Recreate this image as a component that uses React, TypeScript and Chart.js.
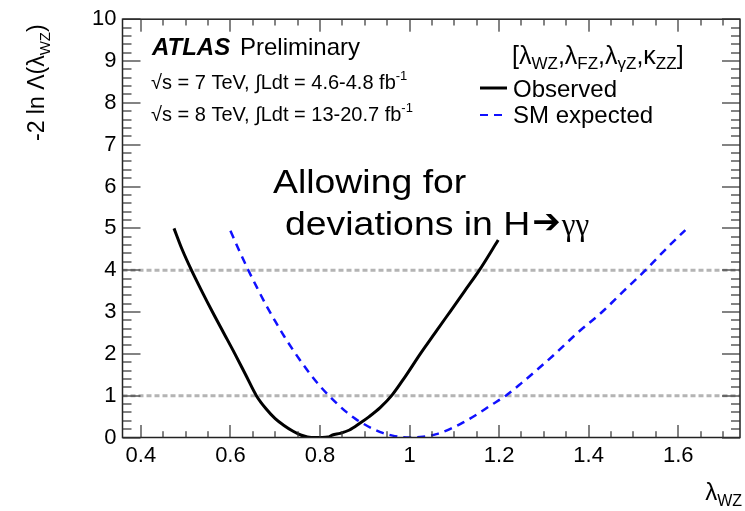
import React, { useEffect, useRef } from "react";
import { Chart, registerables } from "chart.js";

Chart.register(...registerables);

// ---- data ----
const observedX = [0.474, 0.492, 0.513, 0.536, 0.56, 0.585, 0.61, 0.634, 0.658, 0.68, 0.7, 0.718, 0.74, 0.757, 0.772, 0.79, 0.805, 0.818, 0.828, 0.845, 0.866, 0.889, 0.91, 0.935, 0.96, 0.99, 1.024, 1.057, 1.09, 1.123, 1.156, 1.198];
const observedY = [5.0, 4.5, 4.0, 3.5, 3.0, 2.5, 2.0, 1.5, 1.0, 0.68, 0.45, 0.3, 0.15, 0.06, 0.015, 0.0, 0.0, 0.01, 0.06, 0.1, 0.18, 0.34, 0.5, 0.72, 1.0, 1.45, 2.0, 2.5, 3.0, 3.5, 4.0, 4.72];

const expectedX = [0.6, 0.62, 0.64, 0.66, 0.68, 0.7, 0.72, 0.74, 0.76, 0.78, 0.8, 0.82, 0.84, 0.86, 0.88, 0.9, 0.92, 0.94, 0.96, 0.98, 1.0, 1.03, 1.06, 1.09, 1.12, 1.15, 1.18, 1.215, 1.25, 1.285, 1.325, 1.375, 1.43, 1.478, 1.527, 1.572, 1.616];
const expectedY = [4.94, 4.46, 4.0, 3.57, 3.16, 2.78, 2.42, 2.09, 1.78, 1.49, 1.23, 1.0, 0.79, 0.6, 0.44, 0.31, 0.2, 0.11, 0.05, 0.01, 0.0, 0.02, 0.08, 0.2, 0.36, 0.55, 0.76, 1.0, 1.3, 1.62, 2.0, 2.5, 3.0, 3.5, 4.0, 4.5, 4.96];

const refLevels = [1, 4];
const xTickValues = [0.4, 0.6, 0.8, 1.0, 1.2, 1.4, 1.6];
const yTickValues = [0, 1, 2, 3, 4, 5, 6, 7, 8, 9, 10];

const X_MIN = 0.359;
const X_MAX = 1.738;
const Y_MIN = 0;
const Y_MAX = 10;

const SANS = "'Liberation Sans', Arial, Helvetica, sans-serif";
const SERIF = "'Liberation Serif', 'Times New Roman', serif";

type Part = { t: string; font: string; dy?: number };

function drawParts(ctx: CanvasRenderingContext2D, x: number, y: number, parts: Part[]) {
  let cx = x;
  for (const p of parts) {
    ctx.font = p.font;
    ctx.fillText(p.t, cx, y + (p.dy || 0));
    cx += ctx.measureText(p.t).width;
  }
  return cx;
}

const decorPlugin = {
  id: "decor",
  afterDraw(chart: any) {
    const ctx: CanvasRenderingContext2D = chart.ctx;
    const { left, right, top, bottom } = chart.chartArea;
    const xs = chart.scales.x;
    const ys = chart.scales.y;
    ctx.save();
    ctx.setLineDash([]);

    // frame
    ctx.strokeStyle = "#222";
    ctx.lineWidth = 1.5;
    ctx.strokeRect(left, top, right - left, bottom - top);

    // ticks (drawn as thin rectangles)
    ctx.fillStyle = "#333";
    const yMajLen = 18, yMinLen = 9, xMajLen = 12.5, xMinLen = 6.3;
    for (let i = 0; i <= 50; i++) {
      const v = Y_MIN + i * 0.2;
      if (v > Y_MAX + 1e-9) break;
      const py = Math.round(ys.getPixelForValue(v));
      const len = i % 5 === 0 ? yMajLen : yMinLen;
      ctx.fillRect(left, py - 0.6, len, 1.2);
      ctx.fillRect(right - len, py - 0.6, len, 1.2);
    }
    for (let i = -2; i <= 40; i++) {
      const v = 0.4 + i * 0.05;
      if (v < X_MIN || v > X_MAX) continue;
      const px = Math.round(xs.getPixelForValue(v));
      const len = ((i % 4) + 4) % 4 === 0 ? xMajLen : xMinLen;
      ctx.fillRect(px - 0.6, bottom - len, 1.2, len);
      ctx.fillRect(px - 0.6, top, 1.2, len);
    }

    ctx.fillStyle = "#000";
    ctx.textBaseline = "alphabetic";
    ctx.textAlign = "left";

    // ATLAS label
    ctx.font = `italic bold 24px ${SANS}`;
    ctx.fillText("ATLAS", 152, 55);
    ctx.font = `24px ${SANS}`;
    ctx.fillText("Preliminary", 240, 55);

    const f21 = `20px ${SANS}`;
    const sup = `13px ${SANS}`;
    drawParts(ctx, 151, 89, [
      { t: "\u221As = 7 TeV, \u222BLdt = 4.6-4.8 fb", font: f21 },
      { t: "-1", font: sup, dy: -9 },
    ]);
    drawParts(ctx, 151, 121, [
      { t: "\u221As = 8 TeV, \u222BLdt = 13-20.7 fb", font: f21 },
      { t: "-1", font: sup, dy: -9 },
    ]);

    // legend header
    const lf = `25px ${SANS}`;
    const sf = `17px ${SANS}`;
    drawParts(ctx, 512, 64, [
      { t: "[\u03BB", font: lf },
      { t: "WZ", font: sf, dy: 5 },
      { t: ",\u03BB", font: lf },
      { t: "FZ", font: sf, dy: 5 },
      { t: ",\u03BB", font: lf },
      { t: "\u03B3Z", font: sf, dy: 5 },
      { t: ",\u03BA", font: lf },
      { t: "ZZ", font: sf, dy: 5 },
      { t: "]", font: lf },
    ]);

    // legend entries
    ctx.lineWidth = 3;
    ctx.strokeStyle = "#000";
    ctx.beginPath();
    ctx.moveTo(480, 88);
    ctx.lineTo(507, 88);
    ctx.stroke();
    ctx.strokeStyle = "#1010ff";
    ctx.lineWidth = 2;
    ctx.setLineDash([8, 6]);
    ctx.beginPath();
    ctx.moveTo(480, 115);
    ctx.lineTo(508, 115);
    ctx.stroke();
    ctx.setLineDash([]);
    ctx.font = `24px ${SANS}`;
    ctx.fillText("Observed", 513, 97);
    ctx.fillText("SM expected", 513, 123);

    // annotation (slightly widened text)
    ctx.save();
    ctx.translate(273, 193);
    ctx.scale(1.1, 1);
    ctx.font = `34px ${SANS}`;
    ctx.fillText("Allowing for", 0, 0);
    ctx.restore();

    ctx.save();
    ctx.translate(285, 235);
    ctx.scale(1.1, 1);
    let cx = drawParts(ctx, 0, 0, [{ t: "deviations in H", font: `34px ${SANS}` }]);
    ctx.restore();
    const arrowX = 285 + cx * 1.1 + 2;
    const ax = drawParts(ctx, arrowX, 233, [{ t: "\u2794", font: `bold 34px 'DejaVu Sans', sans-serif` }]);
    drawParts(ctx, ax + 1, 235, [{ t: "\u03B3\u03B3", font: `31px ${SERIF}` }]);

    // y axis title (rotated)
    ctx.save();
    ctx.translate(44, 141);
    ctx.rotate(-Math.PI / 2);
    drawParts(ctx, 0, 0, [
      { t: "-2 ln \u039B(\u03BB", font: `23px ${SANS}` },
      { t: "WZ", font: `15px ${SANS}`, dy: 6 },
      { t: ")", font: `23px ${SANS}` },
    ]);
    ctx.restore();

    // x axis title
    ctx.font = `24px ${SANS}`;
    const w1 = ctx.measureText("\u03BB").width;
    ctx.font = `16px ${SANS}`;
    const w2 = ctx.measureText("WZ").width;
    drawParts(ctx, 742 - w1 - w2, 500, [
      { t: "\u03BB", font: `24px ${SANS}` },
      { t: "WZ", font: `16px ${SANS}`, dy: 6 },
    ]);

    ctx.restore();
  },
};

function fmt(v: number) {
  return String(Number(v.toFixed(1)));
}

export default function App() {
  const ref = useRef<HTMLCanvasElement>(null);

  useEffect(() => {
    const canvas = ref.current;
    if (!canvas) return;
    const refDatasets = refLevels.map((lvl) => ({
      label: `ref${lvl}`,
      data: [
        { x: X_MIN, y: lvl },
        { x: X_MAX, y: lvl },
      ],
      borderColor: "#b4b4b4",
      borderWidth: 3,
      borderDash: [5, 3],
      pointRadius: 0,
      order: 3,
    }));
    const chart = new Chart(canvas, {
      type: "line",
      data: {
        datasets: [
          ...refDatasets,
          {
            label: "SM expected",
            data: expectedX.map((x, i) => ({ x, y: expectedY[i] })),
            borderColor: "#1010ff",
            borderWidth: 2.5,
            borderDash: [8, 6],
            pointRadius: 0,
            cubicInterpolationMode: "monotone",
            order: 2,
          },
          {
            label: "Observed",
            data: observedX.map((x, i) => ({ x, y: observedY[i] })),
            borderColor: "#000",
            borderWidth: 3,
            pointRadius: 0,
            cubicInterpolationMode: "monotone",
            order: 1,
          },
        ],
      } as any,
      options: {
        responsive: false,
        animation: false,
        devicePixelRatio: 1,
        layout: { padding: { top: 19, right: 5, left: 0, bottom: 0 } },
        plugins: { legend: { display: false }, tooltip: { enabled: false } },
        scales: {
          x: {
            type: "linear",
            min: X_MIN,
            max: X_MAX,
            grid: { display: false, drawTicks: false },
            border: { display: false },
            afterBuildTicks: (s: any) => {
              s.ticks = xTickValues.map((v) => ({ value: v }));
            },
            afterFit: (s: any) => {
              s.height = 73.5;
            },
            ticks: {
              font: { family: SANS, size: 22 },
              color: "#000",
              padding: 5,
              maxRotation: 0,
              autoSkip: false,
              callback: (v: any) => fmt(Number(v)),
            },
          },
          y: {
            type: "linear",
            min: Y_MIN,
            max: Y_MAX,
            grid: { display: false, drawTicks: false },
            border: { display: false },
            afterBuildTicks: (s: any) => {
              s.ticks = yTickValues.map((v) => ({ value: v }));
            },
            afterFit: (s: any) => {
              s.width = 122.5;
            },
            ticks: {
              font: { family: SANS, size: 22 },
              color: "#000",
              padding: 6,
              autoSkip: false,
              callback: (v: any) => String(v),
            },
          },
        },
      } as any,
      plugins: [decorPlugin],
    });
    return () => chart.destroy();
  }, []);

  return (
    <div style={{ position: "absolute", left: 0, top: 0, width: 745, height: 511, background: "#fff" }}>
      <canvas ref={ref} width={745} height={511} style={{ display: "block" }} />
    </div>
  );
}
